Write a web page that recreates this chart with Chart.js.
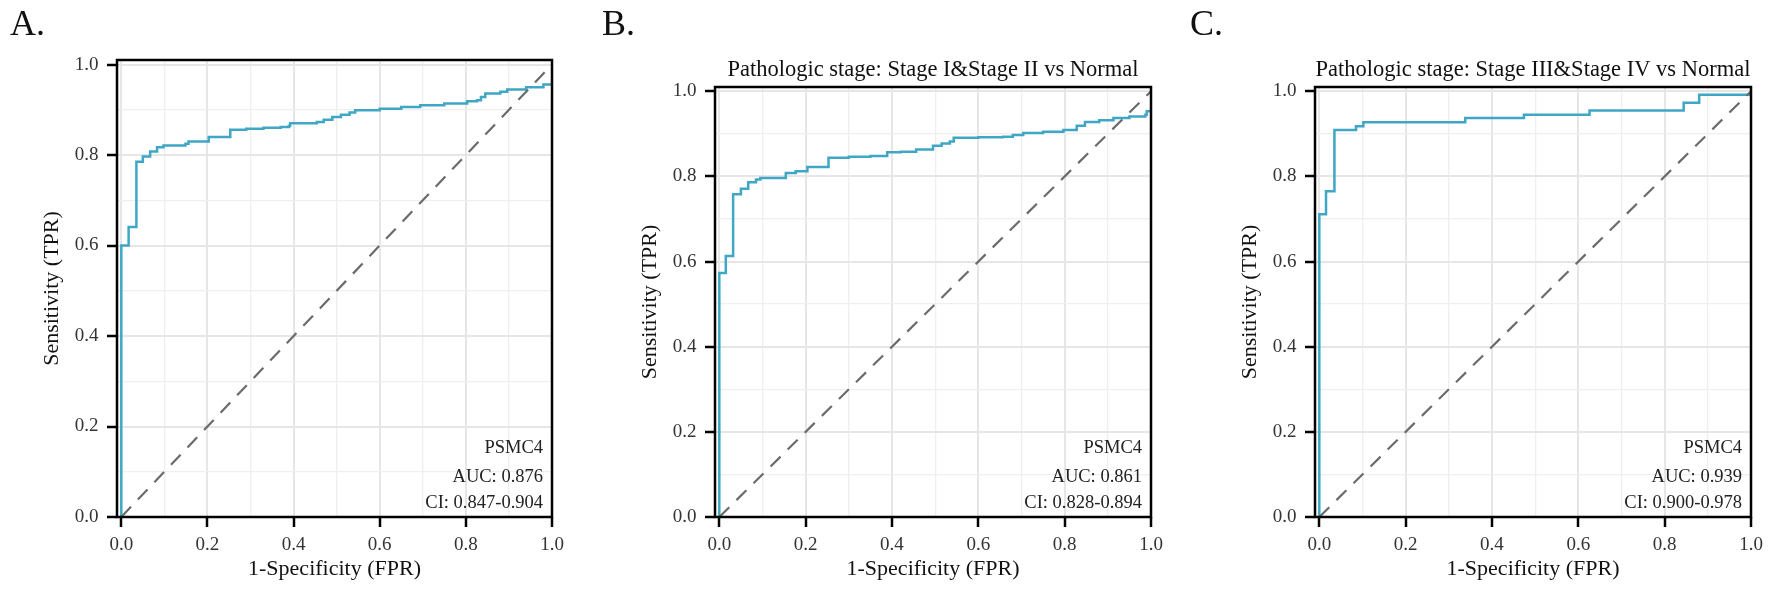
<!DOCTYPE html>
<html>
<head>
<meta charset="utf-8">
<script src="https://cdn.jsdelivr.net/npm/chart.js@4.4.0/dist/chart.umd.min.js"></script>
<style>
  html, body { margin: 0; padding: 0; background: #fff; }
  body { width: 1772px; height: 592px; position: relative; overflow: hidden; }
  .panel { position: absolute; top: 0; height: 592px; }
</style>
</head>
<body>
<div class="panel" id="pA" style="left:0px;width:580px;"><canvas></canvas></div>
<div class="panel" id="pB" style="left:580px;width:590px;"><canvas></canvas></div>
<div class="panel" id="pC" style="left:1170px;width:602px;"><canvas></canvas></div>
<script>
// ROC points (FPR, TPR), step-before
const aFpr = [0, 0, 0.017, 0.035, 0.050, 0.067, 0.083, 0.098, 0.149, 0.156, 0.203, 0.253, 0.29, 0.33, 0.37, 0.389, 0.392, 0.454, 0.47, 0.49, 0.51, 0.53, 0.543, 0.60, 0.65, 0.694, 0.75, 0.803, 0.826, 0.835, 0.845, 0.88, 0.896, 0.94, 0.98, 1.0];
const aTpr = [0, 0.600, 0.641, 0.785, 0.797, 0.808, 0.817, 0.821, 0.825, 0.830, 0.840, 0.856, 0.858, 0.860, 0.862, 0.864, 0.870, 0.873, 0.878, 0.884, 0.889, 0.894, 0.899, 0.902, 0.906, 0.910, 0.914, 0.919, 0.921, 0.928, 0.936, 0.940, 0.945, 0.950, 0.956, 0.961];

const bFpr = [0, 0, 0.015, 0.032, 0.050, 0.067, 0.085, 0.095, 0.154, 0.177, 0.204, 0.253, 0.30, 0.35, 0.389, 0.42, 0.456, 0.495, 0.515, 0.534, 0.543, 0.60, 0.657, 0.68, 0.704, 0.75, 0.797, 0.828, 0.847, 0.88, 0.913, 0.95, 0.987, 0.99, 1.0];
const bTpr = [0, 0.573, 0.613, 0.758, 0.771, 0.786, 0.793, 0.796, 0.808, 0.812, 0.822, 0.844, 0.846, 0.848, 0.857, 0.858, 0.863, 0.872, 0.877, 0.882, 0.891, 0.892, 0.893, 0.897, 0.902, 0.905, 0.909, 0.919, 0.928, 0.932, 0.937, 0.941, 0.945, 0.953, 0.953];

const cFpr = [0, 0, 0.0155, 0.035, 0.085, 0.102, 0.338, 0.474, 0.626, 0.844, 0.880, 1.0];
const cTpr = [0, 0.711, 0.765, 0.909, 0.918, 0.927, 0.937, 0.945, 0.955, 0.973, 0.992, 0.992];

const diagX = [0, 1];
const diagY = [0, 1];

const gridVals = [0, 0.1, 0.2, 0.3, 0.4, 0.5, 0.6, 0.7, 0.8, 0.9, 1.0];

const tags = ['A.', 'B.', 'C.'];
const titles = ['', 'Pathologic stage: Stage I&Stage II vs Normal', 'Pathologic stage: Stage III&Stage IV vs Normal'];
const markerName = 'PSMC4';
const aucs = ['0.876', '0.861', '0.939'];
const cis = ['0.847-0.904', '0.828-0.894', '0.900-0.978'];

const xTitle = '1-Specificity (FPR)';
const yTitle = 'Sensitivity (TPR)';

const SERIF = "'Liberation Serif', 'Times New Roman', serif";
Chart.defaults.font.family = SERIF;

const isMajor = v => Math.round(v * 10) % 2 === 0;
const toPts = (xs, ys) => xs.map((x, i) => ({ x: x, y: ys[i] }));

// layout of each panel (pixels inside its own div)
const layouts = [
  { id: 'pA', yAxisW: 117, top: 60, right: 28, tagX: 10 },
  { id: 'pB', yAxisW: 135, top: 87, right: 19, tagX: 22 },
  { id: 'pC', yAxisW: 145, top: 87, right: 21, tagX: 20 }
];
const curves = [[aFpr, aTpr], [bFpr, bTpr], [cFpr, cTpr]];

const TITLE_PX = 22;

layouts.forEach((lay, i) => {
  const decor = {
    id: 'decor' + i,
    afterDraw(chart) {
      const { ctx, chartArea: ca } = chart;
      ctx.save();
      // panel frame
      ctx.strokeStyle = '#000';
      ctx.lineWidth = 2.5;
      ctx.strokeRect(ca.left, ca.top, ca.right - ca.left, ca.bottom - ca.top);
      // panel tag
      ctx.fillStyle = '#111';
      ctx.textBaseline = 'alphabetic';
      ctx.textAlign = 'left';
      ctx.font = '36px ' + SERIF;
      ctx.fillText(tags[i], lay.tagX, 35);
      // title
      if (titles[i]) {
        ctx.font = '22.5px ' + SERIF;
        ctx.textAlign = 'center';
        ctx.fillText(titles[i], (ca.left + ca.right) / 2, 76);
      }
      // AUC annotation
      ctx.font = '18.5px ' + SERIF;
      ctx.textAlign = 'right';
      ctx.fillStyle = '#222';
      const rx = ca.right - 9;
      ctx.fillText(markerName, rx, ca.bottom - 64);
      ctx.fillText('AUC: ' + aucs[i], rx, ca.bottom - 35.5);
      ctx.fillText('CI: ' + cis[i], rx, ca.bottom - 9);
      ctx.restore();
    }
  };

  const gridOpts = {
    color: c => (c.tick && isMajor(c.tick.value)) ? '#e6e6e6' : '#efefef',
    lineWidth: c => (c.tick && isMajor(c.tick.value)) ? 2 : 1.3,
    tickColor: c => (c.tick && isMajor(c.tick.value)) ? '#000' : 'rgba(0,0,0,0)',
    tickWidth: 2.5,
    tickLength: 10,
    drawTicks: true
  };
  const tickOpts = pad => ({
    autoSkip: false,
    maxRotation: 0,
    padding: pad,
    color: '#333',
    font: { size: 19, family: SERIF },
    callback: v => isMajor(v) ? Number(v).toFixed(1) : ''
  });

  new Chart(document.querySelector('#' + lay.id + ' canvas'), {
    type: 'line',
    data: {
      datasets: [
        {
          data: toPts(diagX, diagY),
          borderColor: '#6b6b6b',
          borderWidth: 2.2,
          borderDash: [14, 10],
          pointRadius: 0,
          fill: false
        },
        {
          data: toPts(curves[i][0], curves[i][1]),
          borderColor: '#3fa7c5',
          borderWidth: 2.5,
          stepped: 'before',
          pointRadius: 0,
          fill: false
        }
      ]
    },
    options: {
      responsive: true,
      maintainAspectRatio: false,
      animation: false,
      devicePixelRatio: 1,
      layout: { padding: { top: lay.top, right: lay.right, bottom: 0, left: 0 } },
      plugins: { legend: { display: false }, tooltip: { enabled: false } },
      scales: {
        x: {
          type: 'linear',
          min: -0.01,
          max: 1.0,
          afterBuildTicks: s => { s.ticks = gridVals.map(v => ({ value: v })); },
          afterFit: s => { s.height = 75; },
          grid: gridOpts,
          border: { display: false },
          ticks: tickOpts(7),
          title: {
            display: true,
            text: xTitle,
            color: '#111',
            font: { size: TITLE_PX, family: SERIF },
            padding: { top: 0, bottom: 10 }
          }
        },
        y: {
          type: 'linear',
          min: 0,
          max: 1.01,
          afterBuildTicks: s => { s.ticks = gridVals.map(v => ({ value: v })); },
          afterFit: s => { s.width = lay.yAxisW; },
          grid: gridOpts,
          border: { display: false },
          ticks: tickOpts(8.5),
          title: {
            display: true,
            text: yTitle,
            color: '#111',
            font: { size: TITLE_PX, family: SERIF },
            padding: { top: lay.yAxisW - 65 - TITLE_PX * 0.6, bottom: 0 }
          }
        }
      }
    },
    plugins: [decor]
  });
});
</script>
</body>
</html>
